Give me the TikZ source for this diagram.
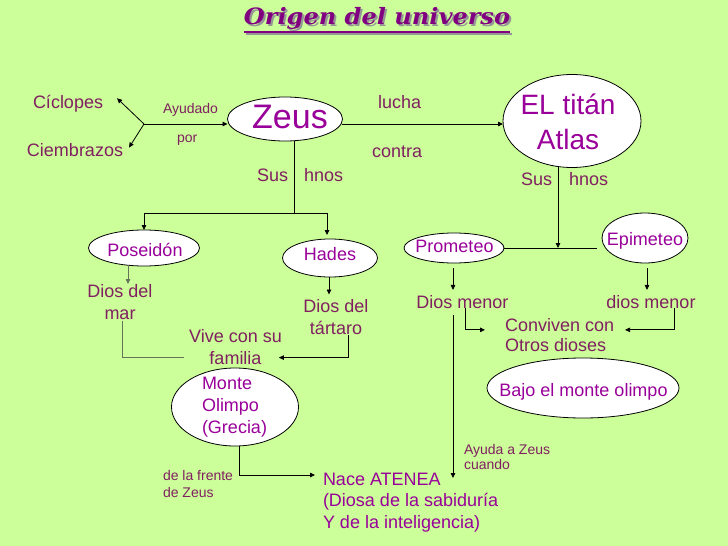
\documentclass[tikz,border=0pt]{standalone}
\usepackage{fontspec}
\newfontfamily\bodyfont{Liberation Sans}
\newfontfamily\titlefont{DejaVu Serif}
\usetikzlibrary{shapes.geometric,arrows.meta,calc}
\definecolor{bg}{RGB}{204,255,153}
\definecolor{nodetxt}{RGB}{153,0,153}
\definecolor{labtxt}{RGB}{128,32,96}
\definecolor{ttl}{RGB}{128,0,128}
\definecolor{shadowgray}{RGB}{150,150,150}
\definecolor{linegray}{RGB}{100,115,90}
\begin{document}
\begin{tikzpicture}[x=1pt,y=-1pt,
  every node/.style={inner sep=0pt,outer sep=0pt},
  oval/.style={ellipse,draw=black,fill=white,line width=0.8pt},
  ovtxt/.style={text=nodetxt,font=\bodyfont\fontsize{18}{22}\selectfont},
  lab/.style={text=labtxt,font=\bodyfont\fontsize{18}{22}\selectfont},
  smalllab/.style={text=labtxt,font=\bodyfont\fontsize{14}{16.5}\selectfont},
  conn/.style={draw=black,line width=0.8pt},
  grayconn/.style={draw=linegray,line width=0.8pt},
  arr/.style={conn,-{Triangle[length=5pt,width=4.5pt]}},
  titlestyle/.style={font=\titlefont\bfseries\itshape\fontsize{22.5}{22.5}\selectfont},
]
\fill[bg] (0,0) rectangle (728,546);
\useasboundingbox (0,0) rectangle (728,546);

% title
\node[titlestyle,text=shadowgray,anchor=base] (titleshadow) at (379,26) {\scalebox{1.07}[1]{Origen del universo}};
\draw[shadowgray,line width=1.6pt] ($(titleshadow.base west)+(0,8)$) -- ($(titleshadow.base east)+(0,8)$);
\node[titlestyle,text=ttl,anchor=base] (title) at (377,24) {\scalebox{1.07}[1]{Origen del universo}};
\draw[ttl,line width=1.6pt] ($(title.base west)+(0,8)$) -- ($(title.base east)+(0,8)$);

% ellipses
\node[oval,minimum width=115pt,minimum height=44pt] (zeus) at (285,119) {};
\node[ovtxt,font=\bodyfont\fontsize{34}{34}\selectfont,anchor=base] (zeust) at (290,128) {Zeus};
\node[oval,minimum width=138pt,minimum height=93pt] (atlas) at (572,121) {};
\node[ovtxt,font=\bodyfont\fontsize{28}{35}\selectfont,align=center] (atlast) at (568,122) {EL titán\\Atlas};
\node[oval,minimum width=111pt,minimum height=36pt] (poseidon) at (144,248) {};
\node[ovtxt,anchor=base] (poseidont) at (145,256.5) {Poseidón};
\node[oval,minimum width=95pt,minimum height=38pt] (hades) at (330,258) {};
\node[ovtxt,anchor=base] (hadest) at (330,260) {Hades};
\node[oval,minimum width=100pt,minimum height=30pt] (prom) at (454,248) {};
\node[ovtxt,anchor=base] (promt) at (454.5,252) {Prometeo};
\node[oval,minimum width=86pt,minimum height=50pt] (epi) at (645,238) {};
\node[ovtxt,anchor=base] (epit) at (645,245.5) {Epimeteo};
\node[oval,minimum width=127pt,minimum height=78pt] (monte) at (235,407) {};
\node[ovtxt,align=left] (montet) at (234.5,407.5) {Monte\\Olimpo\\(Grecia)};
\node[oval,minimum width=192pt,minimum height=60pt] (bajo) at (583,388) {};
\node[ovtxt,anchor=base] (bajot) at (583.5,396) {Bajo el monte olimpo};

% labels
\node[lab,anchor=base west] (cic) at (33,108) {Cíclopes};
\node[lab,anchor=base west] (ciem) at (27,156) {Ciembrazos};
\node[smalllab,anchor=base west] (ayu) at (163,113) {Ayudado};
\node[smalllab,anchor=base west] (por) at (177,142.5) {por};
\node[lab,anchor=base west] (sus1) at (257,181) {Sus\hspace{16pt}hnos};
\node[lab,anchor=base west] (lucha) at (378,108) {lucha};
\node[lab,anchor=base west] (contra) at (372,157) {contra};
\node[lab,anchor=base west] (sus2) at (521,185) {Sus\hspace{17pt}hnos};
\node[lab,align=center,anchor=north] (dm1) at (120,284) {Dios del\\mar};
\node[lab,align=center,anchor=north,font=\bodyfont\fontsize{18}{21.5}\selectfont] (dt) at (336,299.5) {Dios del\\tártaro};
\node[lab,align=center,anchor=north] (vive) at (235.5,329) {Vive con su\\familia};
\node[lab,anchor=base] (dmen1) at (462.5,308) {Dios menor};
\node[lab,anchor=base] (dmen2) at (651,308) {dios menor};
\node[lab,align=left,anchor=north west,font=\bodyfont\fontsize{18}{20.5}\selectfont] (conv) at (505,318) {Conviven con\\Otros dioses};
\node[smalllab,align=left,anchor=north west] (frente) at (163,470.8) {de la frente\\de Zeus};
\node[ovtxt,align=left,anchor=north west,font=\bodyfont\fontsize{18}{21.5}\selectfont] (nace) at (323,473) {Nace ATENEA\\(Diosa de la sabiduría\\Y de la inteligencia)};
\node[smalllab,align=left,anchor=north west,font=\bodyfont\fontsize{14}{15}\selectfont] (ayz) at (464,444.8) {Ayuda a Zeus\\cuando};

% connectors
\coordinate (J) at (144,124);
\draw[arr] (J) -- ($(cic.east)+(14,-5)$);
\draw[arr] (J) -- ($(ciem.east)+(6,-2)$);
\draw[arr] (J) -- (J -| zeus.west);
\draw[arr] ($(zeus.east)+(-1,5)$) -- ($(zeus.east -| atlas.west)+(0,5)$);
\coordinate (zb) at (294,213);
\draw[conn] (zeus.south -| zb) -- (zb);
\draw[arr] (zb) -| (poseidon.north);
\draw[arr] (zb) -| ($(hades.north)+(-3,-4)$);
\draw[arr] ($(atlas.south)+(-14,-1)$) -- ($(atlas.south |- prom.east)+(-14,0)$);
\draw[conn] (prom.east) -- ($(prom.east -| epi.west)+(-5,0)$);
\draw[arr,grayconn] ($(poseidon.south)+(-16,-1)$) -- ($(poseidon.south |- dm1.north)+(-16,0)$);
\draw[arr] ($(hades.south)+(-1,0)$) -- ($(hades.south |- dt.north)+(-1,-5)$);
\draw[grayconn] ($(dm1.south)+(2,2)$) |- ($(vive.west)+(-5,11)$);
\draw[arr] ($(dt.south)+(12,1)$) |- ($(vive.east)+(-3,11)$);
\draw[arr] ($(monte.south)+(4,0)$) |- ($(nace.north west)+(-8,2)$);
\draw[arr] ($(prom.south)+(-1,5)$) -- ($(prom.south |- dmen1.north)+(-1,-5)$);
\draw[arr] ($(epi.south)+(2,5)$) -- ($(epi.south |- dmen2.north)+(2,-5)$);
\draw[arr] ($(dmen1.south)+(-9.5,7)$) -- ($(dmen1.south |- nace.north)+(-9.5,5)$);
\draw[arr] ($(dmen1.south)+(2.5,0)$) |- ($(conv.west)+(-20,-5)$);
\draw[arr] ($(dmen2.south)+(23,0)$) |- ($(conv.east)+(11,-5)$);
\end{tikzpicture}
\end{document}
